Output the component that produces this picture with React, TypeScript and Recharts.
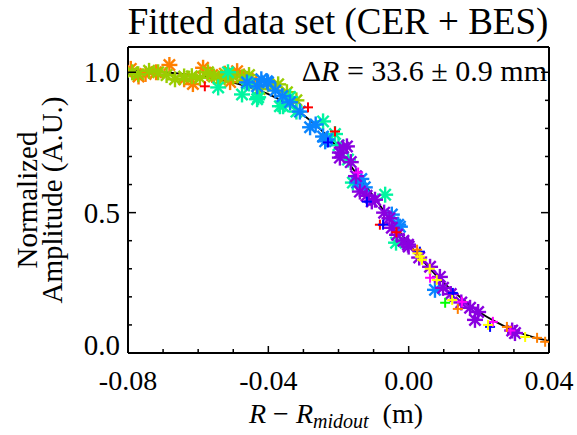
import React from "react"
import { ComposedChart, Scatter, Line, XAxis, YAxis, Label } from "recharts"

// fitted curve
const fitX = [-0.08, -0.075, -0.07, -0.065, -0.06, -0.055, -0.05, -0.045, -0.04, -0.035, -0.03, -0.025, -0.02, -0.015, -0.01, -0.005, 0, 0.005, 0.01, 0.015, 0.02, 0.025, 0.03, 0.035, 0.04]
const fitY = [1.005, 1.003, 1.0, 0.995, 0.987, 0.977, 0.963, 0.945, 0.922, 0.89, 0.848, 0.795, 0.728, 0.64, 0.558, 0.47, 0.39, 0.315, 0.25, 0.196, 0.147, 0.11, 0.08, 0.058, 0.043]

// star symbols
const orangeX = [-0.0792, -0.077, -0.075, -0.072, -0.0682, -0.064, -0.0615, -0.0586, -0.056, -0.0524, -0.0509, -0.0489, -0.047, -0.0445]
const orangeY = [1.012, 0.985, 0.994, 1.0, 1.026, 0.975, 0.958, 1.016, 0.99, 0.995, 0.965, 1.004, 0.985, 0.97]
const limeX = [-0.0788, -0.0771, -0.074, -0.0714, -0.069, -0.0666, -0.064, -0.0618, -0.0595, -0.0572, -0.0555, -0.0538, -0.052, -0.05, -0.0475, -0.0455, -0.0425, -0.0387, -0.0372, -0.0347, -0.032]
const limeY = [1.0, 0.993, 1.005, 1.0, 0.99, 0.975, 0.985, 0.986, 0.98, 1.0, 0.985, 0.975, 0.99, 0.985, 0.982, 0.99, 0.94, 0.95, 0.957, 0.929, 0.9]
const mintX = [-0.0543, -0.0515, -0.0475, -0.0455, -0.0432, -0.0429, -0.0367, -0.0358, -0.0338, -0.032, -0.0244, -0.021, -0.02, -0.0173, -0.0159, -0.0067, -0.0036]
const mintY = [0.946, 1.0, 0.921, 0.96, 0.904, 0.911, 0.879, 0.879, 0.912, 0.86, 0.825, 0.78, 0.74, 0.689, 0.607, 0.564, 0.393]
const azureX = [-0.0461, -0.0432, -0.042, -0.0404, -0.0401, -0.038, -0.036, -0.0338, -0.031, -0.0281, -0.0265, -0.0244, -0.0233, -0.0238, -0.0147, -0.0135, -0.0125, -0.0048, -0.003, -0.0025, 0.0075]
const azureY = [0.964, 0.95, 0.975, 0.968, 0.964, 0.935, 0.915, 0.893, 0.86, 0.804, 0.814, 0.771, 0.761, 0.754, 0.607, 0.62, 0.59, 0.493, 0.457, 0.45, 0.225]
const violetX = [-0.0196, -0.0187, -0.0176, -0.0196, -0.0165, -0.015, -0.0139, -0.012, -0.0105, -0.0096, -0.007, -0.0055, -0.0048, -0.0033, -0.0015, -0.0002, 0.0, 0.003, 0.0061, 0.0089, 0.0098, 0.012, 0.015, 0.0175, 0.0198, 0.0189, 0.0295, 0.0303]
const violetY = [0.714, 0.732, 0.736, 0.696, 0.68, 0.63, 0.575, 0.56, 0.54, 0.546, 0.5, 0.48, 0.446, 0.421, 0.4, 0.386, 0.379, 0.34, 0.307, 0.271, 0.232, 0.21, 0.18, 0.161, 0.146, 0.118, 0.08, 0.071]

// plus symbols
const redX = [-0.0581, -0.0287, -0.021, -0.0082, -0.0035]
const redY = [0.95, 0.875, 0.789, 0.457, 0.43]
const blueX = [-0.023, -0.0119, -0.0073, 0.0032, 0.0126, 0.0232]
const blueY = [0.75, 0.539, 0.457, 0.361, 0.214, 0.093]
const magentaX = [-0.0144, 0.0061, 0.0152, 0.024, 0.029]
const magentaY = [0.643, 0.268, 0.182, 0.111, 0.08]
const yellowX = [0.0025, 0.0032, 0.0038, 0.006, 0.008, 0.0124, 0.0226, 0.0332]
const yellowY = [0.355, 0.343, 0.332, 0.3, 0.26, 0.189, 0.1, 0.057]
const greenX = [0.0104]
const greenY = [0.179]
const orangePlusX = [0.0024, 0.014, 0.028, 0.0366, 0.0389]
const orangePlusY = [0.368, 0.157, 0.093, 0.054, 0.04]

const xTicks = [-0.08, -0.07, -0.06, -0.05, -0.04, -0.03, -0.02, -0.01, 0, 0.01, 0.02, 0.03, 0.04]
const xMajor = [-0.08, -0.04, 0, 0.04]
const yTicks = [0, 0.1, 0.2, 0.3, 0.4, 0.5, 0.6, 0.7, 0.8, 0.9, 1.0]
const yMajor = [0, 0.5, 1.0]

const W = 577
const H = 435
const PLOT = { left: 128, right: 549, top: 47, bottom: 353 }
const FONT = "'Liberation Serif', 'Times New Roman', serif"

const pts = (xs: number[], ys: number[]) => xs.map((x, i) => ({ x, y: ys[i] }))
const isMajor = (v: number, list: number[]) => list.some((m) => Math.abs(m - v) < 1e-9)

const star = (color: string) => (props: any) => {
  const { cx, cy } = props
  if (cx == null || cy == null) return null
  const r = 8
  const d = r * 0.707
  return (
    <g stroke={color} strokeWidth={2.4}>
      <line x1={cx - r} y1={cy} x2={cx + r} y2={cy} />
      <line x1={cx} y1={cy - r} x2={cx} y2={cy + r} />
      <line x1={cx - d} y1={cy - d} x2={cx + d} y2={cy + d} />
      <line x1={cx - d} y1={cy + d} x2={cx + d} y2={cy - d} />
    </g>
  )
}

const plus = (color: string) => (props: any) => {
  const { cx, cy } = props
  if (cx == null || cy == null) return null
  const r = 5
  return (
    <g stroke={color} strokeWidth={2}>
      <line x1={cx - r} y1={cy} x2={cx + r} y2={cy} />
      <line x1={cx} y1={cy - r} x2={cx} y2={cy + r} />
    </g>
  )
}

const BottomTick = (props: any) => {
  const { x, payload } = props
  const major = isMajor(payload.value, xMajor)
  return (
    <g>
      <line x1={x} y1={PLOT.bottom} x2={x} y2={PLOT.bottom - (major ? 7 : 4)} stroke="#000" strokeWidth={1.5} />
      {major && (
        <text x={x} y={390} textAnchor="middle" fontSize={28} fontFamily={FONT} fill="#000">
          {payload.value.toFixed(2)}
        </text>
      )}
    </g>
  )
}

const TopTick = (props: any) => {
  const { x, payload } = props
  const major = isMajor(payload.value, xMajor)
  return <line x1={x} y1={PLOT.top} x2={x} y2={PLOT.top + (major ? 7 : 4)} stroke="#000" strokeWidth={1.5} />
}

const LeftTick = (props: any) => {
  const { y, payload } = props
  const major = isMajor(payload.value, yMajor)
  return (
    <g>
      <line x1={PLOT.left} y1={y} x2={PLOT.left + (major ? 8 : 4)} y2={y} stroke="#000" strokeWidth={1.5} />
      {major && (
        <text x={120} y={y + (payload.value === 0 ? 2 : 10)} textAnchor="end" fontSize={29} fontFamily={FONT} fill="#000">
          {payload.value.toFixed(1)}
        </text>
      )}
    </g>
  )
}

const RightTick = (props: any) => {
  const { y, payload } = props
  const major = isMajor(payload.value, yMajor)
  return <line x1={PLOT.right} y1={y} x2={PLOT.right - (major ? 8 : 4)} y2={y} stroke="#000" strokeWidth={1.5} />
}

const XTitle = () => (
  <text x={336} y={423} textAnchor="middle" fontSize={28} fontFamily={FONT} fill="#000">
    <tspan fontStyle="italic">R</tspan>
    <tspan> − </tspan>
    <tspan fontStyle="italic">R</tspan>
    <tspan fontStyle="italic" fontSize={20} dy={5}>midout</tspan>
    <tspan dy={-5}>{"\u00a0 (m)"}</tspan>
  </text>
)

const YTitle = () => (
  <g fontSize={29} fontFamily={FONT} fill="#000">
    <text transform="translate(37,200) rotate(-90)" textAnchor="middle">Normalized</text>
    <text transform="translate(62,200) rotate(-90)" textAnchor="middle">Amplitude (A.U.)</text>
  </g>
)

const TopTitle = () => (
  <g fontFamily={FONT} fill="#000">
    <text x={338} y={34} textAnchor="middle" fontSize={37}>Fitted data set (CER + BES)</text>
    <text x={547} y={81} textAnchor="end" fontSize={30}>
      <tspan>Δ</tspan>
      <tspan fontStyle="italic">R</tspan>
      <tspan>{" = 33.6 ± 0.9 mm"}</tspan>
    </text>
  </g>
)

const stars = [
  { name: "orange", color: "#ff7f00", xs: orangeX, ys: orangeY },
  { name: "lime", color: "#9acd00", xs: limeX, ys: limeY },
  { name: "mint", color: "#00f5a0", xs: mintX, ys: mintY },
  { name: "azure", color: "#0a84ff", xs: azureX, ys: azureY },
  { name: "violet", color: "#8a00e0", xs: violetX, ys: violetY },
]

const pluses = [
  { name: "red", color: "#ff0000", xs: redX, ys: redY },
  { name: "blue", color: "#0000ff", xs: blueX, ys: blueY },
  { name: "magenta", color: "#ff00ff", xs: magentaX, ys: magentaY },
  { name: "yellow", color: "#ffff00", xs: yellowX, ys: yellowY },
  { name: "green", color: "#00ff00", xs: greenX, ys: greenY },
  { name: "orangePlus", color: "#ff7f00", xs: orangePlusX, ys: orangePlusY },
]

export default function App() {
  return (
    <div style={{ position: "absolute", left: 0, top: 0, width: W, height: H, background: "#fff" }}>
      <ComposedChart
        width={W}
        height={H}
        margin={{ top: PLOT.top - 10, right: W - PLOT.right - 10, bottom: 0, left: 0 }}
      >
        <XAxis
          xAxisId={0}
          dataKey="x"
          type="number"
          domain={[-0.08, 0.04]}
          allowDataOverflow
          ticks={xTicks}
          interval={0}
          height={H - PLOT.bottom}
          axisLine={{ stroke: "#000", strokeWidth: 2 }}
          tickLine={false}
          tick={<BottomTick />}
        >
          <Label content={() => <XTitle />} />
        </XAxis>
        <XAxis
          xAxisId="top"
          orientation="top"
          type="number"
          domain={[-0.08, 0.04]}
          allowDataOverflow
          ticks={xTicks}
          interval={0}
          height={10}
          axisLine={{ stroke: "#000", strokeWidth: 2 }}
          tickLine={false}
          tick={<TopTick />}
        >
          <Label content={() => <TopTitle />} />
        </XAxis>
        <YAxis
          yAxisId={0}
          dataKey="y"
          type="number"
          domain={[0, 1.09]}
          allowDataOverflow
          ticks={yTicks}
          interval={0}
          width={PLOT.left}
          axisLine={{ stroke: "#000", strokeWidth: 2 }}
          tickLine={false}
          tick={<LeftTick />}
        >
          <Label content={() => <YTitle />} />
        </YAxis>
        <YAxis
          yAxisId="right"
          orientation="right"
          type="number"
          domain={[0, 1.09]}
          allowDataOverflow
          ticks={yTicks}
          interval={0}
          width={10}
          axisLine={{ stroke: "#000", strokeWidth: 2 }}
          tickLine={false}
          tick={<RightTick />}
        />
        {stars.map((s) => (
          <Scatter key={s.name} data={pts(s.xs, s.ys)} dataKey="y" shape={star(s.color)} isAnimationActive={false} />
        ))}
        {pluses.map((s) => (
          <Scatter key={s.name} data={pts(s.xs, s.ys)} dataKey="y" shape={plus(s.color)} isAnimationActive={false} />
        ))}
        <Line
          data={pts(fitX, fitY)}
          dataKey="y"
          type="monotone"
          stroke="#000"
          strokeWidth={1.8}
          dot={false}
          activeDot={false}
          isAnimationActive={false}
        />
      </ComposedChart>
    </div>
  )
}
